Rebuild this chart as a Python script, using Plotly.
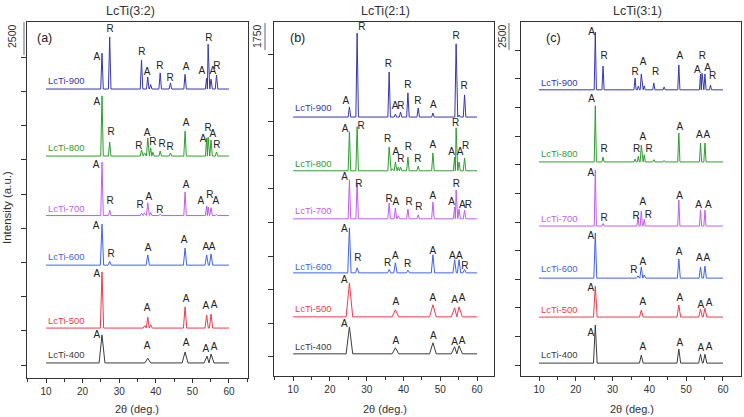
import plotly.graph_objects as go

# ---------------- DATA ----------------
series_names = ["LcTi-900", "LcTi-800", "LcTi-700", "LcTi-600", "LcTi-500", "LcTi-400"]
panel_titles = ["LcTi(3:2)", "LcTi(2:1)", "LcTi(3:1)"]
panel_tags = ["(a)", "(b)", "(c)"]
scale_texts = ["2500", "1750", "2500"]
x_ticks = [10, 20, 30, 40, 50, 60]

# Panel (a) LcTi(3:2): baselines and peak tops (stacked intensity, a.u.)
a_base = [8.07, 6.11, 4.37, 2.92, 1.08, 0.06]
a900_x = [25.3, 27.4, 36.1, 37.8, 38.6, 41.2, 44.0, 48.0, 53.9, 54.3, 55.1, 56.6]
a900_y = [9.12, 9.59, 8.92, 8.42, 8.20, 8.54, 8.25, 8.50, 8.39, 9.38, 8.36, 8.48]
a800_x = [25.3, 27.4, 36.1, 36.9, 37.8, 38.6, 39.2, 41.2, 44.0, 48.0, 53.9, 54.3, 55.1, 56.6]
a800_y = [7.87, 6.52, 6.29, 6.20, 6.64, 6.35, 6.22, 6.26, 6.20, 6.84, 6.64, 6.66, 6.58, 6.23]
a700_x = [25.3, 27.4, 36.1, 36.9, 37.8, 38.6, 41.2, 48.0, 53.9, 54.3, 55.1, 56.6]
a700_y = [5.93, 4.53, 4.44, 4.45, 4.74, 4.46, 4.42, 5.06, 4.65, 4.62, 4.60, 4.40]
a600_x = [25.3, 27.4, 37.8, 48.0, 53.9, 55.1]
a600_y = [4.12, 3.03, 3.22, 3.42, 3.22, 3.25]
a500_x = [25.3, 37.0, 37.8, 38.6, 48.0, 53.9, 55.1]
a500_y = [2.72, 1.15, 1.40, 1.18, 1.70, 1.46, 1.49]
a400_x = [25.3, 37.8, 48.0, 54.0, 55.1]
a400_y = [0.88, 0.20, 0.38, 0.26, 0.32]
a_label_y = [8.33, 6.37, 4.59, 3.16, 1.29, 0.32]
a_peaks = [
    ("A", 23.9, 9.00), ("R", 27.5, 9.82), ("R", 36.2, 9.15), ("A", 37.6, 8.54), ("R", 41.1, 8.74),
    ("R", 43.9, 8.39), ("A", 48.3, 8.71), ("A", 52.6, 8.57), ("R", 54.5, 9.56), ("A", 55.6, 8.57), ("R", 56.7, 8.74),
    ("A", 23.9, 7.69), ("R", 27.8, 6.81), ("R", 35.4, 6.40), ("A", 37.6, 6.78), ("R", 39.2, 6.52),
    ("R", 41.7, 6.46), ("R", 43.9, 6.37), ("A", 48.3, 7.05), ("A", 52.9, 6.58), ("R", 54.3, 6.93),
    ("A", 55.6, 6.75), ("R", 56.7, 6.43),
    ("A", 23.7, 5.82), ("R", 27.5, 4.77), ("R", 35.7, 4.65), ("A", 38.1, 4.91), ("R", 41.1, 4.53),
    ("A", 48.3, 5.26), ("A", 52.3, 4.77), ("R", 54.8, 4.97), ("A", 56.4, 4.77),
    ("A", 23.7, 4.04), ("R", 27.8, 3.22), ("A", 37.9, 3.42), ("A", 47.7, 3.63), ("A", 53.7, 3.45), ("A", 55.4, 3.45),
    ("A", 23.9, 2.66), ("A", 37.6, 1.64), ("A", 48.3, 1.93), ("A", 53.7, 1.70), ("A", 55.9, 1.73),
    ("A", 23.9, 0.85), ("A", 37.6, 0.53), ("A", 48.3, 0.64), ("A", 53.7, 0.44), ("A", 55.9, 0.50),
]

# Panel (b) LcTi(2:1)
b_base = [7.14, 5.54, 4.11, 2.50, 1.19, 0.09]
b900_x = [25.3, 27.4, 36.1, 37.8, 39.2, 41.2, 44.0, 48.0, 54.3, 55.1, 56.6]
b900_y = [7.44, 9.64, 8.48, 7.23, 7.29, 7.86, 7.41, 7.26, 9.32, 7.20, 7.80]
b800_x = [25.3, 27.4, 36.1, 37.0, 37.8, 38.6, 39.2, 41.2, 44.0, 48.0, 53.9, 54.3, 55.1, 56.6]
b800_y = [6.70, 6.85, 6.25, 5.60, 5.80, 5.65, 5.65, 5.95, 5.68, 6.07, 5.95, 6.82, 5.80, 5.92]
b700_x = [25.3, 27.4, 36.1, 37.8, 38.6, 41.2, 44.0, 48.0, 53.9, 54.3, 55.1, 56.6]
b700_y = [5.27, 5.18, 4.58, 4.43, 4.20, 4.40, 4.23, 4.61, 4.46, 4.97, 4.40, 4.37]
b600_x = [25.3, 27.4, 36.1, 37.8, 41.2, 48.0, 53.9, 55.1, 56.6]
b600_y = [3.84, 2.65, 2.60, 2.80, 2.58, 3.04, 2.89, 2.89, 2.60]
b500_x = [25.3, 37.8, 48.0, 53.9, 55.1]
b500_y = [2.20, 1.40, 1.55, 1.46, 1.49]
b400_x = [25.3, 37.8, 48.0, 53.9, 55.1]
b400_y = [0.89, 0.27, 0.42, 0.30, 0.33]
b_label_y = [7.41, 5.77, 4.35, 2.68, 1.43, 0.30]
b_peaks = [
    ("A", 24.3, 7.59), ("R", 28.7, 9.82), ("R", 35.9, 8.69), ("A", 37.7, 7.44), ("R", 39.3, 7.44),
    ("R", 41.2, 8.07), ("R", 43.9, 7.59), ("A", 48.1, 7.47), ("R", 54.3, 9.55), ("R", 56.5, 8.04),
    ("A", 24.1, 6.76), ("R", 28.5, 6.85), ("R", 35.7, 6.46), ("A", 37.9, 6.07), ("R", 39.3, 5.89),
    ("R", 41.3, 6.22), ("R", 43.9, 5.89), ("A", 48.0, 6.28), ("A", 53.1, 6.07), ("R", 54.2, 6.96),
    ("A", 55.4, 6.07), ("R", 56.9, 6.25),
    ("A", 24.0, 5.33), ("R", 27.9, 5.12), ("R", 36.1, 4.70), ("A", 37.9, 4.61), ("R", 41.5, 4.61),
    ("R", 44.2, 4.46), ("A", 48.0, 4.76), ("A", 53.1, 4.61), ("R", 54.4, 5.12), ("A", 56.0, 4.52), ("R", 57.6, 4.52),
    ("A", 23.9, 3.78), ("R", 27.6, 2.92), ("R", 35.7, 2.77), ("A", 37.8, 3.00), ("R", 41.1, 2.74),
    ("A", 48.0, 3.15), ("A", 53.3, 3.00), ("A", 55.2, 3.00), ("R", 56.7, 2.68),
    ("A", 23.9, 2.26), ("A", 37.9, 1.61), ("A", 48.0, 1.73), ("A", 53.9, 1.67), ("A", 55.9, 1.73),
    ("A", 23.9, 0.95), ("A", 37.9, 0.45), ("A", 48.1, 0.62), ("A", 53.9, 0.42), ("A", 55.9, 0.45),
]

# Panel (c) LcTi(3:1)
c_base = [9.62, 7.10, 4.86, 3.04, 1.68, 0.07]
c900_x = [25.3, 27.4, 36.1, 37.0, 37.8, 38.6, 41.2, 44.0, 48.0, 53.9, 54.3, 55.1, 56.6]
c900_y = [11.64, 10.45, 10.03, 9.75, 10.17, 9.76, 9.86, 9.72, 10.49, 10.17, 10.20, 10.17, 9.79]
c800_x = [25.3, 27.4, 36.1, 37.0, 37.8, 38.6, 41.2, 44.0, 48.0, 53.9, 55.1]
c800_y = [9.06, 7.27, 7.20, 7.30, 7.69, 7.35, 7.18, 7.15, 8.11, 7.76, 7.76]
c700_x = [25.3, 27.4, 36.9, 37.8, 38.6, 48.0, 53.9, 55.1]
c700_y = [6.82, 4.95, 5.17, 5.38, 5.10, 5.77, 5.42, 5.42]
c600_x = [25.3, 36.9, 37.8, 38.6, 48.0, 53.9, 55.1]
c600_y = [4.62, 3.12, 3.43, 3.15, 3.71, 3.43, 3.46]
c500_x = [25.3, 37.8, 48.0, 53.9, 55.1]
c500_y = [2.76, 1.92, 2.10, 1.96, 1.99]
c400_x = [25.3, 37.8, 48.0, 53.9, 55.1]
c400_y = [1.40, 0.35, 0.56, 0.38, 0.38]
c_label_y = [9.86, 7.38, 5.14, 3.36, 1.96, 0.38]
c_peaks = [
    ("A", 24.3, 11.64), ("R", 27.7, 10.77), ("R", 36.1, 10.24), ("A", 38.3, 10.56), ("R", 41.7, 10.24),
    ("A", 48.3, 10.77), ("A", 53.0, 10.28), ("R", 54.4, 10.77), ("A", 55.8, 10.38), ("R", 57.2, 10.10),
    ("A", 24.3, 9.27), ("R", 27.7, 7.52), ("R", 36.5, 7.52), ("A", 38.2, 7.97), ("R", 39.9, 7.52),
    ("A", 48.3, 8.32), ("A", 53.6, 8.04), ("A", 55.6, 8.04),
    ("A", 24.1, 6.68), ("R", 27.7, 5.14), ("R", 36.4, 5.21), ("A", 38.2, 5.70), ("R", 39.7, 5.24),
    ("A", 48.2, 5.91), ("A", 53.4, 5.59), ("A", 56.0, 5.59),
    ("A", 24.1, 4.51), ("R", 35.8, 3.29), ("A", 38.2, 3.57), ("A", 48.1, 3.92), ("A", 53.6, 3.71), ("A", 55.6, 3.71),
    ("A", 24.1, 2.69), ("A", 38.2, 2.20), ("A", 48.3, 2.34), ("A", 54.0, 2.10), ("A", 56.2, 2.17),
    ("A", 24.1, 1.12), ("A", 38.2, 0.63), ("A", 48.3, 0.77), ("A", 54.0, 0.59), ("A", 56.2, 0.63),
]

# ---------------- STYLE / LAYOUT ----------------
W, H = 744, 417
colors = ["#3636b4", "#2e9e2e", "#c25cf2", "#3f62f2", "#f23a4a", "#3c3c3c"]
FONT = "Liberation Sans, Arial, sans-serif"

panels = [
    dict(base=a_base, xs=[a900_x, a800_x, a700_x, a600_x, a500_x, a400_x],
         ys=[a900_y, a800_y, a700_y, a600_y, a500_y, a400_y], laby=a_label_y, peaks=a_peaks,
         widths=[0.35, 0.35, 0.35, 0.45, 0.45, 0.8],
         xpx=(27, 248), ypx=(22, 378), xr=[4.8, 65.2], yr=[-0.38, 10.03], nt=10,
         bar=(24, 22, 55), bartxt=(12, 36), tag=(44, 38), title=(130, 11), xt=(137, 409)),
    dict(base=b_base, xs=[b900_x, b800_x, b700_x, b600_x, b500_x, b400_x],
         ys=[b900_y, b800_y, b700_y, b600_y, b500_y, b400_y], laby=b_label_y, peaks=b_peaks,
         widths=[0.35, 0.35, 0.35, 0.45, 0.9, 0.9],
         xpx=(274, 494), ypx=(22, 376), xr=[4.8, 64.6], yr=[-0.57, 9.97], nt=10,
         bar=(265, 23, 50), bartxt=(257, 36), tag=(297, 38), title=(385, 11), xt=(385, 409)),
    dict(base=c_base, xs=[c900_x, c800_x, c700_x, c600_x, c500_x, c400_x],
         ys=[c900_y, c800_y, c700_y, c600_y, c500_y, c400_y], laby=c_label_y, peaks=c_peaks,
         widths=[0.3, 0.3, 0.3, 0.4, 0.5, 0.5],
         xpx=(521, 741), ypx=(22, 376), xr=[5.1, 64.9], yr=[-0.38, 11.99], nt=12,
         bar=(509, 23, 50), bartxt=(502, 36), tag=(553, 38), title=(637, 11), xt=(632, 409)),
]


def profile(base, xs, ys, w):
    px, py = [10.0], [base]
    n = len(xs)
    for i, (p, top) in enumerate(zip(xs, ys)):
        left = p - w
        right = p + w
        if i > 0:
            left = max(left, (xs[i - 1] + p) / 2)
        if i < n - 1:
            right = min(right, (p + xs[i + 1]) / 2)
        px += [left, p, right]
        py += [base, top, base]
    px.append(60.0)
    py.append(base)
    return px, py


fig = go.Figure()
annotations = []
shapes = []
layout = {}

for k, pn in enumerate(panels):
    sfx = "" if k == 0 else str(k + 1)
    xa, ya = "x" + sfx, "y" + sfx
    for j in range(6):
        px, py = profile(pn["base"][j], pn["xs"][j], pn["ys"][j], pn["widths"][j])
        fig.add_trace(go.Scatter(x=px, y=py, mode="lines", xaxis=xa, yaxis=ya,
                                 line=dict(color=colors[j], width=1), showlegend=False,
                                 hoverinfo="skip"))
        annotations.append(dict(x=10, y=pn["laby"][j], xref=xa, yref=ya, text=series_names[j],
                                showarrow=False, xanchor="left", yanchor="middle",
                                font=dict(family=FONT, size=9.5, color=colors[j])))
    fig.add_trace(go.Scatter(x=[p[1] for p in pn["peaks"]], y=[p[2] for p in pn["peaks"]],
                             text=[p[0] for p in pn["peaks"]], mode="text", xaxis=xa, yaxis=ya,
                             textposition="middle center", showlegend=False, hoverinfo="skip",
                             textfont=dict(family=FONT, size=10, color="#222222")))
    x0, x1 = pn["xpx"]
    y0, y1 = pn["ypx"]
    layout["xaxis" + sfx] = dict(
        domain=[x0 / W, x1 / W], anchor=ya, range=pn["xr"], tickmode="array", tickvals=x_ticks,
        ticks="outside", ticklen=4, tickcolor="#333", showline=True, linecolor="#333",
        linewidth=1, mirror=True, showgrid=False, zeroline=False,
        tickfont=dict(family=FONT, size=10, color="#333"),
        minor=dict(tickmode="array", tickvals=[5, 15, 25, 35, 45, 55, 65], ticks="outside",
                   ticklen=3, tickcolor="#333", showgrid=False))
    layout["yaxis" + sfx] = dict(
        domain=[1 - y1 / H, 1 - y0 / H], anchor=xa, range=pn["yr"], tickmode="array",
        tickvals=list(range(pn["nt"])), showticklabels=False, ticks="outside", ticklen=5,
        tickcolor="#333", showline=True, linecolor="#333", linewidth=1, mirror=True,
        showgrid=False, zeroline=False)
    bx, by0, by1 = pn["bar"]
    shapes.append(dict(type="line", xref="paper", yref="paper", x0=bx / W, x1=bx / W,
                       y0=1 - by0 / H, y1=1 - by1 / H, line=dict(color="#9a9a9a", width=1.5)))
    tx, ty = pn["bartxt"]
    annotations.append(dict(x=tx / W, y=1 - ty / H, xref="paper", yref="paper", text=scale_texts[k],
                            showarrow=False, textangle=-90, xanchor="center", yanchor="middle",
                            font=dict(family=FONT, size=10.5, color="#333")))
    gx, gy = pn["tag"]
    annotations.append(dict(x=gx / W, y=1 - gy / H, xref="paper", yref="paper", text=panel_tags[k],
                            showarrow=False, xanchor="center", yanchor="middle",
                            font=dict(family=FONT, size=12.5, color="#222")))
    tx, ty = pn["title"]
    annotations.append(dict(x=tx / W, y=1 - ty / H, xref="paper", yref="paper", text=panel_titles[k],
                            showarrow=False, xanchor="center", yanchor="middle",
                            font=dict(family=FONT, size=12.5, color="#333")))
    tx, ty = pn["xt"]
    annotations.append(dict(x=tx / W, y=1 - ty / H, xref="paper", yref="paper", text="2θ (deg.)",
                            showarrow=False, xanchor="center", yanchor="middle",
                            font=dict(family=FONT, size=11, color="#333")))

annotations.append(dict(x=7 / W, y=1 - 208 / H, xref="paper", yref="paper", text="Intensity (a.u.)",
                        showarrow=False, textangle=-90, xanchor="center", yanchor="middle",
                        font=dict(family=FONT, size=11.5, color="#333")))

fig.update_layout(width=W, height=H, margin=dict(l=0, r=0, t=0, b=0),
                  paper_bgcolor="white", plot_bgcolor="white",
                  annotations=annotations, shapes=shapes, **layout)

fig.write_html("out.html", config={"displayModeBar": False},
               post_script="document.body.style.margin='0px';document.body.style.overflow='hidden';")
